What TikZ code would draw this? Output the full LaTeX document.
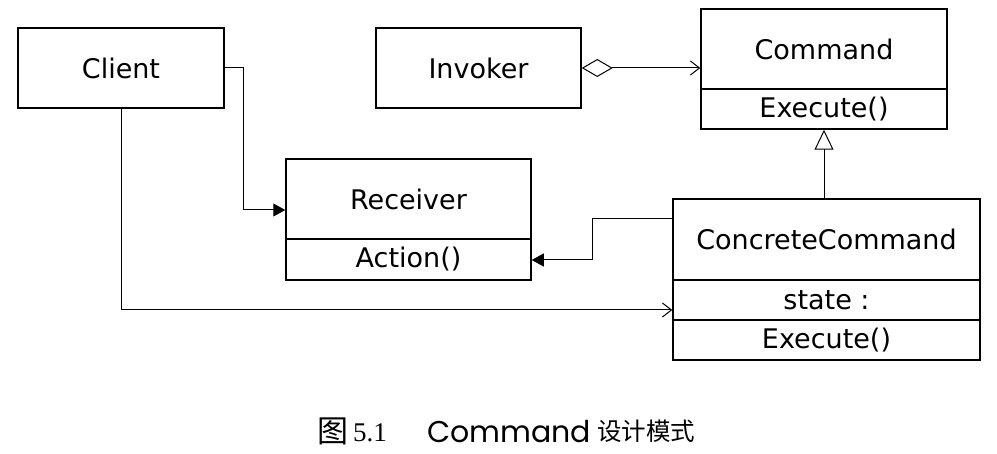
\documentclass[tikz,border=0pt]{standalone}
\usepackage{fontspec}
\setmainfont{DejaVu Sans}
\newfontfamily\cjkfont{Noto Sans CJK SC}
\newfontfamily\capfont{Poppins}
\newfontfamily\numfont{Liberation Serif}
\usetikzlibrary{arrows.meta}
\tikzset{
  box/.style={draw, line width=1.5pt, rectangle, inner sep=0pt, anchor=center,
    font=\fontsize{27}{30}\selectfont},
  conn/.style={line width=1pt},
  assoc/.style={conn, -{Triangle[length=12pt,width=13pt]}},
  nav/.style={conn, -{Straight Barb[length=9pt,width=14pt,line width=1pt]}},
  aggr/.style={conn, {Diamond[open,length=31pt,width=18pt,line width=1pt]}-{Straight Barb[length=9pt,width=14pt,line width=1pt]}},
  inh/.style={conn, -{Triangle[open,length=20pt,width=19pt,line width=1pt]}},
}
\begin{document}
\begin{tikzpicture}[x=1pt,y=-1pt]
\useasboundingbox (0,0) rectangle (997,454);
% classes
\node[box, minimum width=206pt, minimum height=80pt] (client) at (121,68) {Client};
\node[box, minimum width=205pt, minimum height=80pt] (invoker) at (478.5,68) {Invoker};
\node[box, minimum width=246pt, minimum height=80pt] (cmd) at (824,49) {Command};
\node[box, minimum width=246pt, minimum height=40pt] (cmdop) at (824,109) {Execute()};
\node[box, minimum width=245pt, minimum height=80pt] (rec) at (408.5,199) {Receiver};
\node[box, minimum width=245pt, minimum height=41pt] (recop) at (408.5,259.5) {Action()};
\node[box, minimum width=307pt, minimum height=81pt] (cc) at (826.5,239.5) {ConcreteCommand};
\node[box, minimum width=307pt, minimum height=40pt] (ccstate) at (826.5,300) {state :};
\node[box, minimum width=307pt, minimum height=40pt] (ccop) at (826.5,340) {Execute()};
% bend points
\coordinate (c1) at (243,210);
\coordinate (c2) at (121,310);
\coordinate (c3) at (592,219);
\coordinate (c4) at (592,260);
% connectors
\draw[assoc] (client.east) -| (c1) -- (c1 -| rec.west);
\draw[nav] (client.south) -- (c2) -- (c2 -| ccstate.west);
\draw[assoc] (c3 -| cc.west) -- (c3) -- (c4) -- (c4 -| recop.east);
\draw[aggr] (invoker.east) -- (invoker.east -| cmd.west);
\draw[inh] (cmdop.south |- cc.north) -- (cmdop.south);
% caption
\node[inner sep=0pt, font=\cjkfont\fontsize{31}{34}\selectfont] (cap1) at (333,431) {图};
\node[inner sep=0pt, font=\numfont\fontsize{27}{30}\selectfont] (cap2) at (370,433) {5.1};
\node[inner sep=0pt, font=\capfont\fontsize{30}{34}\selectfont] (cap3) at (509,432) {Command};
\node[inner sep=0pt, font=\cjkfont\fontsize{24.5}{30}\selectfont] (cap4) at (646,431) {设计模式};
\end{tikzpicture}
\end{document}
